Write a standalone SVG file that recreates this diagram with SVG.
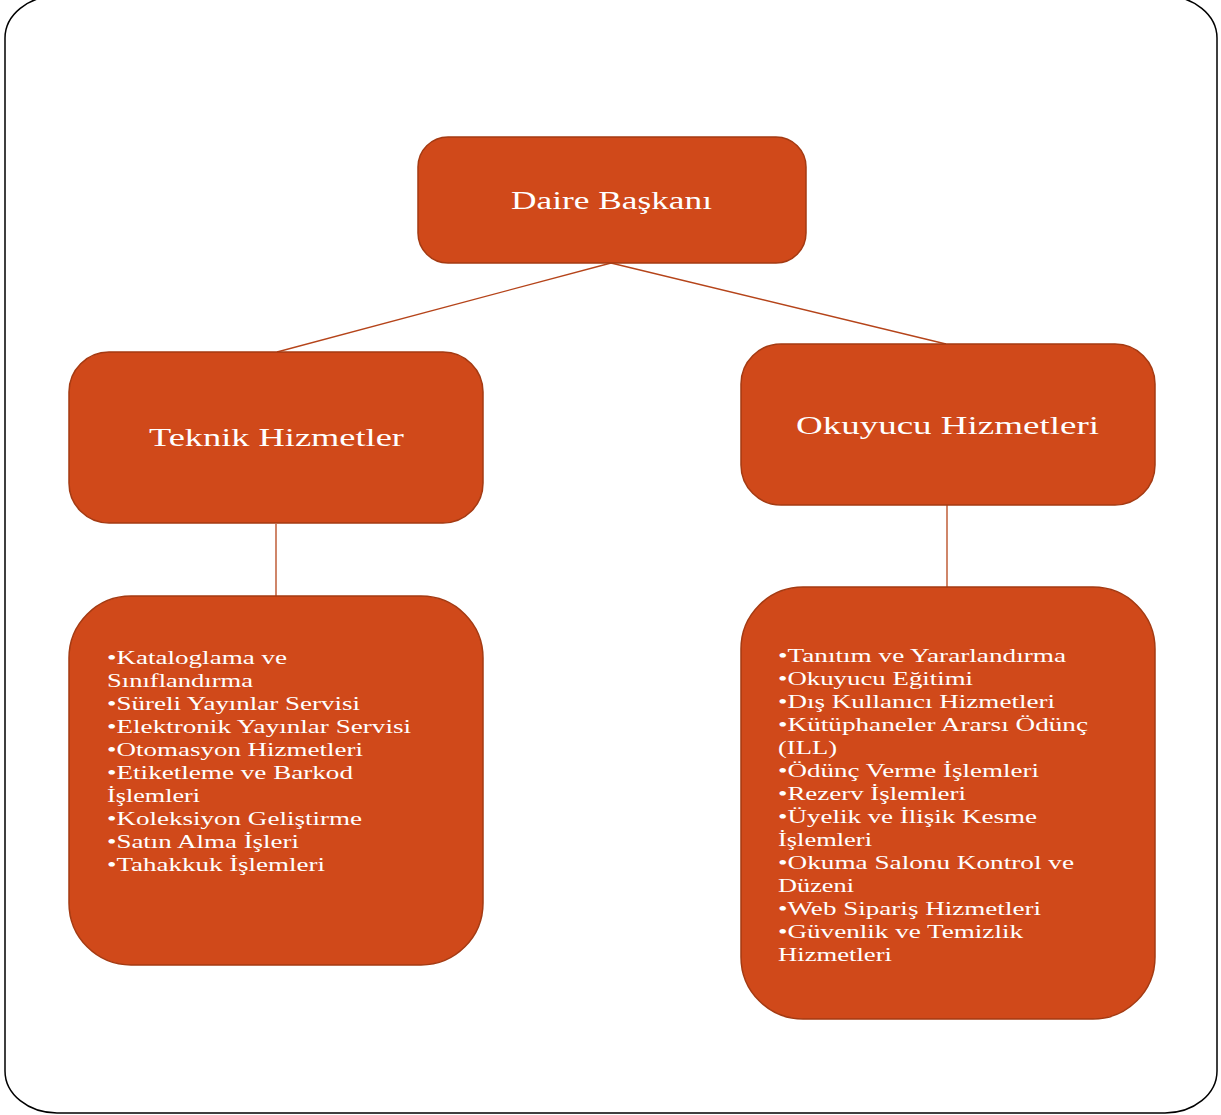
<svg xmlns="http://www.w3.org/2000/svg" width="1221" height="1115" viewBox="0 0 1221 1115">
<style>
.box{fill:#D0491A;stroke:#A43A12;stroke-width:1.5}
.lnk{stroke:#B5441A;stroke-width:1.3;fill:none}
.t{font-family:"Liberation Serif","Times New Roman",serif;fill:#FFFFFF}
.h{font-size:25px}
.l{font-size:19px}
</style>
<rect x="5" y="-4" width="1212" height="1117" rx="52" ry="42" fill="#FFFFFF" stroke="#000000" stroke-width="1.5"/>
<g id="connectors">
<line class="lnk" x1="611" y1="263" x2="277" y2="352"/>
<line class="lnk" x1="611" y1="263" x2="946" y2="344"/>
<line class="lnk" x1="276" y1="524" x2="276" y2="596"/>
<line class="lnk" x1="947" y1="505" x2="947" y2="587"/>
</g>
<g id="daire">
<rect class="box" x="418" y="137" width="388" height="126" rx="30"/>
<text class="t h" x="511" y="209" textLength="201" lengthAdjust="spacingAndGlyphs">Daire Başkanı</text>
</g>
<g id="teknik">
<rect class="box" x="69" y="352" width="414" height="171" rx="40"/>
<text class="t h" x="149" y="446" textLength="255" lengthAdjust="spacingAndGlyphs">Teknik Hizmetler</text>
</g>
<g id="okuyucu">
<rect class="box" x="741" y="344" width="414" height="161" rx="40"/>
<text class="t h" x="796" y="434" textLength="303" lengthAdjust="spacingAndGlyphs">Okuyucu Hizmetleri</text>
</g>
<g id="teknik-list">
<rect class="box" x="69" y="596" width="414" height="369" rx="62"/>
<text class="t l" x="107" y="664" textLength="180" lengthAdjust="spacingAndGlyphs">•Kataloglama ve</text>
<text class="t l" x="107" y="687" textLength="146" lengthAdjust="spacingAndGlyphs">Sınıflandırma</text>
<text class="t l" x="107" y="710" textLength="253" lengthAdjust="spacingAndGlyphs">•Süreli Yayınlar Servisi</text>
<text class="t l" x="107" y="733" textLength="304" lengthAdjust="spacingAndGlyphs">•Elektronik Yayınlar Servisi</text>
<text class="t l" x="107" y="756" textLength="256" lengthAdjust="spacingAndGlyphs">•Otomasyon Hizmetleri</text>
<text class="t l" x="107" y="779" textLength="246" lengthAdjust="spacingAndGlyphs">•Etiketleme ve Barkod</text>
<text class="t l" x="107" y="802" textLength="93" lengthAdjust="spacingAndGlyphs">İşlemleri</text>
<text class="t l" x="107" y="825" textLength="255" lengthAdjust="spacingAndGlyphs">•Koleksiyon Geliştirme</text>
<text class="t l" x="107" y="848" textLength="192" lengthAdjust="spacingAndGlyphs">•Satın Alma İşleri</text>
<text class="t l" x="107" y="871" textLength="218" lengthAdjust="spacingAndGlyphs">•Tahakkuk İşlemleri</text>
</g>
<g id="okuyucu-list">
<rect class="box" x="741" y="587" width="414" height="432" rx="62"/>
<text class="t l" x="778" y="662" textLength="288" lengthAdjust="spacingAndGlyphs">•Tanıtım ve Yararlandırma</text>
<text class="t l" x="778" y="685" textLength="195" lengthAdjust="spacingAndGlyphs">•Okuyucu Eğitimi</text>
<text class="t l" x="778" y="708" textLength="277" lengthAdjust="spacingAndGlyphs">•Dış Kullanıcı Hizmetleri</text>
<text class="t l" x="778" y="731" textLength="310" lengthAdjust="spacingAndGlyphs">•Kütüphaneler Ararsı Ödünç</text>
<text class="t l" x="778" y="754" textLength="59" lengthAdjust="spacingAndGlyphs">(ILL)</text>
<text class="t l" x="778" y="777" textLength="261" lengthAdjust="spacingAndGlyphs">•Ödünç Verme İşlemleri</text>
<text class="t l" x="778" y="800" textLength="188" lengthAdjust="spacingAndGlyphs">•Rezerv İşlemleri</text>
<text class="t l" x="778" y="823" textLength="259" lengthAdjust="spacingAndGlyphs">•Üyelik ve İlişik Kesme</text>
<text class="t l" x="778" y="846" textLength="94" lengthAdjust="spacingAndGlyphs">İşlemleri</text>
<text class="t l" x="778" y="869" textLength="296" lengthAdjust="spacingAndGlyphs">•Okuma Salonu Kontrol ve</text>
<text class="t l" x="778" y="892" textLength="76" lengthAdjust="spacingAndGlyphs">Düzeni</text>
<text class="t l" x="778" y="915" textLength="263" lengthAdjust="spacingAndGlyphs">•Web Sipariş Hizmetleri</text>
<text class="t l" x="778" y="938" textLength="245" lengthAdjust="spacingAndGlyphs">•Güvenlik ve Temizlik</text>
<text class="t l" x="778" y="961" textLength="114" lengthAdjust="spacingAndGlyphs">Hizmetleri</text>
</g>
</svg>
